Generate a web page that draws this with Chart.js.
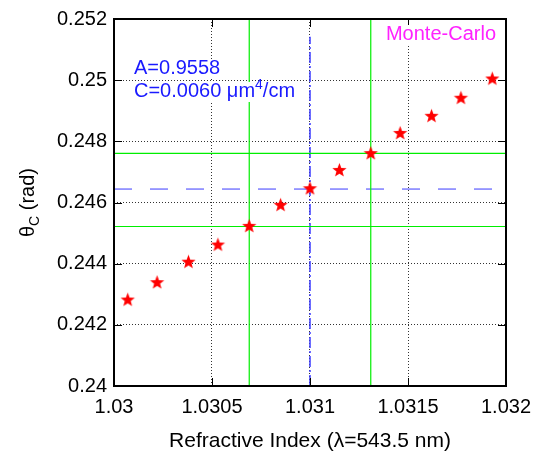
<!DOCTYPE html>
<html lang="en">
<head>
<meta charset="UTF-8">
<title>Critical angle vs refractive index</title>
<script src="https://cdn.jsdelivr.net/npm/chart.js@4.4.0/dist/chart.umd.min.js"></script>
<style>
    html, body { margin: 0; padding: 0; background: #fff; }
    #wrap { width: 543px; height: 455px; }
</style>
</head>
<body>
<div id="wrap"><canvas id="myChart" width="543" height="455"></canvas></div>
<script>
// data
var indexValues = [1.03007, 1.03022, 1.03038, 1.03053, 1.03069, 1.03085, 1.0310, 1.03115, 1.03131, 1.03146, 1.03162, 1.03177, 1.03193];
var thetaValues = [0.24281, 0.24338, 0.24405, 0.24461, 0.24522, 0.24591, 0.24645, 0.24705, 0.24760, 0.24826, 0.24882, 0.24941, 0.25004];
var xTicks = [1.03, 1.0305, 1.031, 1.0315, 1.032];
var yTicks = [0.24, 0.242, 0.244, 0.246, 0.248, 0.25, 0.252];
var fitIndex = 1.031;
var fitTheta = 0.24644;
var fitLineTop = 0.25142;
var bandIndex = [1.03069, 1.03131];
var bandTheta = [0.245216, 0.247603];

var FONT = '"Liberation Sans", Arial, Helvetica, sans-serif';

// filled five point star for the markers
function makeStar(r, color) {
    var c = document.createElement('canvas');
    var s = Math.ceil(r * 2 + 2);
    c.width = s; c.height = s;
    var g = c.getContext('2d');
    g.fillStyle = color;
    g.beginPath();
    for (var i = 0; i < 10; i++) {
        var rr = (i % 2 === 0) ? r : r * 0.42;
        var a = -Math.PI / 2 + i * Math.PI / 5;
        var px = s / 2 + rr * Math.cos(a), py = s / 2 + rr * Math.sin(a);
        if (i === 0) g.moveTo(px, py); else g.lineTo(px, py);
    }
    g.closePath();
    g.fill();
    return c;
}
var star = makeStar(7.5, '#ff0000');

function fmt(v) { return String(parseFloat(v.toFixed(5))); }

var vLine = function(x, y0, y1) { return [{x: x, y: y0}, {x: x, y: y1}]; };
var hLine = function(y) { return [{x: xTicks[0], y: y}, {x: xTicks[xTicks.length - 1], y: y}]; };
var yMin = yTicks[0], yMax = yTicks[yTicks.length - 1];

// frame, inward ticks, y title and text labels
var decor = {
    id: 'decor',
    afterDraw: function(chart) {
        var ctx = chart.ctx, a = chart.chartArea;
        var xs = chart.scales.x, ys = chart.scales.y;
        ctx.save();
        ctx.strokeStyle = '#000';
        ctx.lineWidth = 1;
        ctx.beginPath();
        xTicks.forEach(function(v) {
            var px = Math.round(xs.getPixelForValue(v)) + 0.5;
            ctx.moveTo(px, a.bottom); ctx.lineTo(px, a.bottom - 8);
            ctx.moveTo(px, a.top); ctx.lineTo(px, a.top + 8);
        });
        yTicks.forEach(function(v) {
            var py = Math.round(ys.getPixelForValue(v)) + 0.5;
            ctx.moveTo(a.left, py); ctx.lineTo(a.left + 8, py);
            ctx.moveTo(a.right, py); ctx.lineTo(a.right - 8, py);
        });
        ctx.stroke();
        ctx.lineWidth = 2;
        ctx.strokeRect(a.left, a.top, a.right - a.left, a.bottom - a.top);

        // y title: theta_C (rad)
        ctx.fillStyle = '#000';
        ctx.textBaseline = 'alphabetic';
        ctx.translate(34, (a.top + a.bottom) / 2);
        ctx.rotate(-Math.PI / 2);
        var big = '20px ' + FONT, small = '14px ' + FONT;
        ctx.font = big; var w1 = ctx.measureText('\u03b8').width;
        ctx.font = small; var w2 = ctx.measureText('C').width;
        ctx.font = big; var w3 = ctx.measureText(' (rad)').width;
        var sx = -(w1 + w2 + w3) / 2;
        ctx.fillText('\u03b8', sx, 0);
        ctx.font = small; ctx.fillText('C', sx + w1, 5);
        ctx.font = big; ctx.fillText(' (rad)', sx + w1 + w2, 0);
        ctx.setTransform(1, 0, 0, 1, 0, 0);

        // annotation text with white boxes
        function boxText(parts, x, y) {
            var cx = x, total = 0;
            parts.forEach(function(p) { ctx.font = p.f; total += ctx.measureText(p.t).width; });
            ctx.fillStyle = '#fff';
            ctx.fillRect(x - 1, y - 15, total + 2, 20);
            parts.forEach(function(p) {
                ctx.font = p.f; ctx.fillStyle = p.c;
                ctx.fillText(p.t, cx, y + (p.dy || 0));
                cx += ctx.measureText(p.t).width;
            });
        }
        var blue = '#1a1aff';
        boxText([{t: 'A=0.9558', f: big, c: blue}], a.left + 20, 74);
        boxText([{t: 'C=0.0060 \u03bcm', f: big, c: blue}, {t: '4', f: small, c: blue, dy: -8},
                 {t: '/cm', f: big, c: blue}], a.left + 20, 97);
        ctx.font = big;
        var mw = ctx.measureText('Monte-Carlo').width;
        boxText([{t: 'Monte-Carlo', f: big, c: '#ff22ff'}], a.right - 10 - mw, 40);
        ctx.restore();
    }
};

var ctx = document.getElementById('myChart').getContext('2d');
var chart = new Chart(ctx, {
    type: 'scatter',
    data: {
        datasets: [
            {
                label: 'Monte-Carlo',
                data: indexValues.map(function(x, i) { return {x: x, y: thetaValues[i]}; }),
                pointStyle: star,
                order: 0
            },
            {
                type: 'line', data: hLine(fitTheta), borderColor: '#3b3bff', borderWidth: 1,
                borderDash: [18, 18], pointRadius: 0, order: 2
            },
            {
                type: 'line', data: vLine(fitIndex, yMin, fitLineTop), borderColor: '#3b3bff', borderWidth: 1.5,
                borderDash: [11, 3, 2, 3], pointRadius: 0, order: 2
            },
            {
                type: 'line', data: vLine(bandIndex[0], yMin, yMax), borderColor: '#00ee00', borderWidth: 1.2,
                pointRadius: 0, order: 1
            },
            {
                type: 'line', data: vLine(bandIndex[1], yMin, yMax), borderColor: '#00ee00', borderWidth: 1.2,
                pointRadius: 0, order: 1
            },
            {
                type: 'line', data: hLine(bandTheta[0]), borderColor: '#00ee00', borderWidth: 1.2,
                pointRadius: 0, order: 1
            },
            {
                type: 'line', data: hLine(bandTheta[1]), borderColor: '#00ee00', borderWidth: 1.2,
                pointRadius: 0, order: 1
            }
        ]
    },
    options: {
        responsive: false,
        animation: false,
        devicePixelRatio: 1,
        layout: { padding: { top: 14, right: 37, left: 0, bottom: 0 } },
        plugins: { legend: { display: false }, tooltip: { enabled: false } },
        scales: {
            x: {
                type: 'linear', min: xTicks[0], max: xTicks[xTicks.length - 1],
                afterBuildTicks: function(s) { s.ticks = xTicks.map(function(v) { return {value: v}; }); },
                afterFit: function(s) { s.height = 69; },
                grid: { color: '#333', lineWidth: 1, drawTicks: false },
                border: { display: false, dash: [1, 2] },
                ticks: { color: '#000', padding: 9, maxRotation: 0, font: { family: FONT, size: 20 },
                         callback: function(v) { return fmt(v); } },
                title: { display: true, text: 'Refractive Index (\u03bb=543.5 nm)', color: '#000',
                         font: { family: FONT, size: 21 }, padding: { top: 0, bottom: 1 } }
            },
            y: {
                type: 'linear', min: yMin, max: yMax,
                afterBuildTicks: function(s) { s.ticks = yTicks.map(function(v) { return {value: v}; }); },
                afterFit: function(s) { s.width = 114; },
                grid: { color: '#333', lineWidth: 1, drawTicks: false },
                border: { display: false, dash: [1, 2] },
                ticks: { color: '#000', padding: 7, font: { family: FONT, size: 20 },
                         callback: function(v) { return fmt(v); } }
            }
        }
    },
    plugins: [decor]
});
</script>
</body>
</html>
